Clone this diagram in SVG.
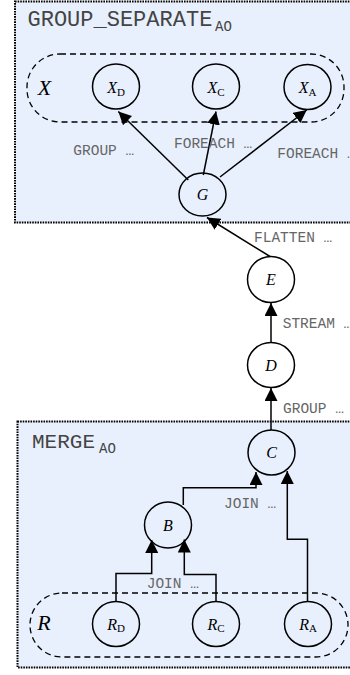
<svg xmlns="http://www.w3.org/2000/svg" width="350" height="675" viewBox="0 0 350 675">
  <style>
    .cluster { fill: #e8f0fd; stroke: #000; stroke-width: 2; stroke-dasharray: 1.6 1; }
    .set { fill: none; stroke: #000; stroke-width: 1.3; stroke-dasharray: 6 4; }
    .node { fill: none; stroke: #000; stroke-width: 1.5; }
    .edge { fill: none; stroke: #000; stroke-width: 1.5; marker-end: url(#arrow); }
    .title { font-family: "Liberation Mono", monospace; fill: #444; }
    .elabel { font-family: "Liberation Mono", monospace; font-size: 14.5px; fill: #666; }
    .nlabel { font-family: "Liberation Serif", serif; font-style: italic; font-size: 16px; fill: #000; text-anchor: middle; }
    .sub { font-style: normal; font-size: 11px; }
    .setlabel { font-family: "Liberation Serif", serif; font-style: italic; font-size: 22px; fill: #000; text-anchor: middle; }
  </style>
  <defs>
    <marker id="arrow" markerUnits="userSpaceOnUse" markerWidth="14" markerHeight="13" refX="13" refY="6.5" orient="auto">
      <path d="M0,0 L13,6.5 L0,13 Z" fill="#000"/>
    </marker>
  </defs>

  <!-- clusters -->
  <g id="cluster_group_separate">
    <rect class="cluster" x="15" y="1.5" width="350" height="221"/>
    <text class="title" x="27.5" y="26" font-size="22">GROUP_SEPARATE<tspan x="215" y="30.5" font-size="14">AO</tspan></text>
  </g>
  <g id="cluster_merge">
    <rect class="cluster" x="17.5" y="421.5" width="350" height="246"/>
    <text class="title" x="32" y="448" font-size="21">MERGE<tspan x="99" y="453" font-size="14">AO</tspan></text>
  </g>

  <!-- sets -->
  <g id="set_X">
    <rect class="set" x="27" y="54" width="317" height="68" rx="33" ry="33"/>
    <text class="setlabel" x="44.5" y="95">X</text>
  </g>
  <g id="set_R">
    <rect class="set" x="30" y="593" width="318" height="64" rx="32" ry="32"/>
    <text class="setlabel" x="44" y="630">R</text>
  </g>

  <!-- connectors -->
  <g id="edges">
    <path class="edge" d="M188.3,180 L118.3,111.5"/>
    <path class="edge" d="M203.3,175 L216,111.5"/>
    <path class="edge" d="M220,177 L306.7,110"/>
    <path class="edge" d="M270,256.5 L207,217.5"/>
    <path class="edge" d="M271,342.5 L271,303"/>
    <path class="edge" d="M271,430 L271,388"/>
    <path class="edge" d="M183.3,505 L183.3,487.7 L256,487.7 L256,472"/>
    <path class="edge" d="M307.5,601.5 L307.5,539.3 L287.3,539.3 L287.3,471"/>
    <path class="edge" d="M116,601.5 L116,573.5 L151.7,573.5 L151.7,540"/>
    <path class="edge" d="M216,601.5 L216,574.5 L184.3,574.5 L184.3,539.5"/>
    <text class="elabel" x="73.3" y="155">GROUP …</text>
    <text class="elabel" x="174" y="148.3">FOREACH …</text>
    <text class="elabel" x="277.3" y="158.3">FOREACH …</text>
    <text class="elabel" x="254" y="241.7">FLATTEN …</text>
    <text class="elabel" x="282.7" y="328">STREAM …</text>
    <text class="elabel" x="283" y="412.7">GROUP …</text>
    <text class="elabel" x="224" y="508">JOIN …</text>
    <text class="elabel" x="146.7" y="588">JOIN …</text>
  </g>

  <!-- nodes -->
  <g id="X_D">
    <ellipse class="node" cx="116" cy="86.5" rx="23.5" ry="22.5"/>
    <text class="nlabel" x="116" y="93">X<tspan class="sub" dy="2.5">D</tspan></text>
  </g>
  <g id="X_C">
    <ellipse class="node" cx="216" cy="86.5" rx="23.5" ry="22.5"/>
    <text class="nlabel" x="216" y="93">X<tspan class="sub" dy="2.5">C</tspan></text>
  </g>
  <g id="X_A">
    <ellipse class="node" cx="307.5" cy="87" rx="23.5" ry="22.5"/>
    <text class="nlabel" x="307.5" y="93">X<tspan class="sub" dy="2.5">A</tspan></text>
  </g>
  <g id="G">
    <ellipse class="node" cx="202.5" cy="194.5" rx="23.5" ry="21.5"/>
    <text class="nlabel" x="202.5" y="200">G</text>
  </g>
  <g id="E">
    <ellipse class="node" cx="271" cy="279.5" rx="23.5" ry="23"/>
    <text class="nlabel" x="271" y="285">E</text>
  </g>
  <g id="D">
    <ellipse class="node" cx="271" cy="365" rx="23.5" ry="22.5"/>
    <text class="nlabel" x="271" y="370.5">D</text>
  </g>
  <g id="C">
    <ellipse class="node" cx="271.5" cy="452.5" rx="23.5" ry="22.5"/>
    <text class="nlabel" x="271.5" y="458">C</text>
  </g>
  <g id="B">
    <ellipse class="node" cx="168" cy="525" rx="23.5" ry="23"/>
    <text class="nlabel" x="168" y="530.5">B</text>
  </g>
  <g id="R_D">
    <ellipse class="node" cx="116" cy="624" rx="23.5" ry="22.5"/>
    <text class="nlabel" x="116" y="629.5">R<tspan class="sub" dy="2.5">D</tspan></text>
  </g>
  <g id="R_C">
    <ellipse class="node" cx="216" cy="624" rx="23.5" ry="22.5"/>
    <text class="nlabel" x="216" y="629.5">R<tspan class="sub" dy="2.5">C</tspan></text>
  </g>
  <g id="R_A">
    <ellipse class="node" cx="308" cy="624" rx="23.5" ry="22.5"/>
    <text class="nlabel" x="308" y="629.5">R<tspan class="sub" dy="2.5">A</tspan></text>
  </g>
</svg>
